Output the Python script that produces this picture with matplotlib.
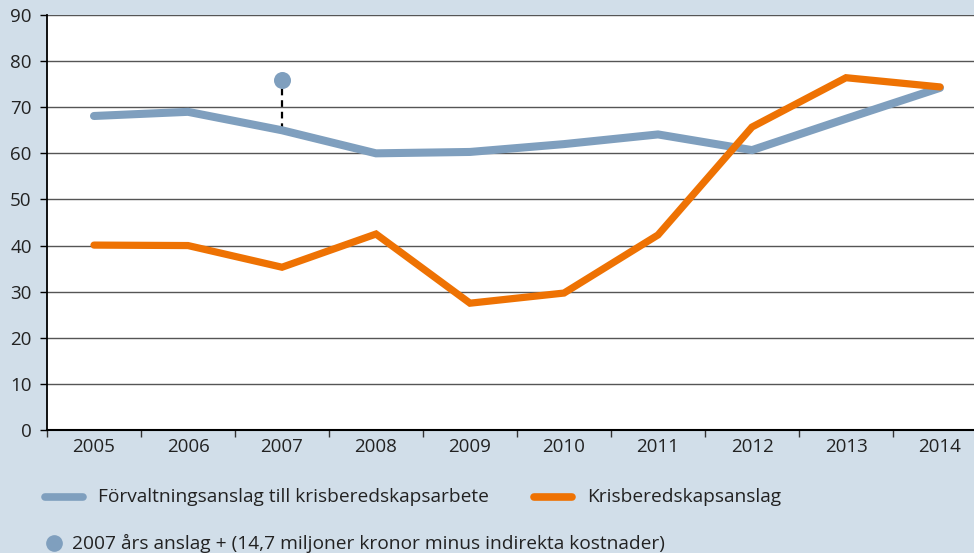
import numpy as np
import matplotlib
matplotlib.use('Agg')
import matplotlib.pyplot as plt
from matplotlib.lines import Line2D

# data
years = ['2005', '2006', '2007', '2008', '2009', '2010', '2011', '2012', '2013', '2014']
forvaltning = [68.1, 69.0, 65.0, 60.0, 60.3, 62.0, 64.1, 60.7, 67.5, 74.2]
krisberedskap = [40.1, 40.0, 35.3, 42.5, 27.5, 29.7, 42.3, 65.7, 76.4, 74.4]
extra_year = '2007'
extra_value = 75.8
y_ticks = [0, 10, 20, 30, 40, 50, 60, 70, 80, 90]

label_forv = 'Förvaltningsanslag till krisberedskapsarbete'
label_kris = 'Krisberedskapsanslag'
label_extra = '2007 års anslag + (14,7 miljoner kronor minus indirekta kostnader)'

bg = '#d1dee9'
blue = '#7f9fbe'
orange = '#ee7203'

plt.rcParams['font.family'] = ['Open Sans', 'DejaVu Sans']

W, H = 974, 553
fig = plt.figure(figsize=(W / 100, H / 100), dpi=100, facecolor=bg)

# plot area in pixels: left 47, top 15, bottom 430, category width ~94 (cropped on right)
left, top, bottom = 47, 15, 430
cat_w = 94.0
right = left + cat_w * len(years)
ax = fig.add_axes([left / W, 1 - bottom / H, (right - left) / W, (bottom - top) / H])
ax.set_facecolor('white')

x = np.arange(len(years))
ax.set_xlim(-0.5, len(years) - 0.5)
ax.set_ylim(0, 90)

for yv in y_ticks[1:]:
    ax.axhline(yv, color='#555555', lw=1.0, zorder=1)

ax.plot(x, forvaltning, color=blue, lw=5.8, solid_capstyle='round', solid_joinstyle='miter', zorder=3)
ax.plot(x, krisberedskap, color=orange, lw=5.2, solid_capstyle='round', solid_joinstyle='miter', zorder=4)

xi = years.index(extra_year)
ax.plot([xi, xi], [forvaltning[xi], extra_value], color='black', lw=1.6, ls=(0, (3, 2.2)), zorder=2)
ax.scatter([xi], [extra_value], s=150, color=blue, zorder=5, linewidths=0)

for s in ['top', 'right']:
    ax.spines[s].set_visible(False)
ax.spines['left'].set_color('black')
ax.spines['bottom'].set_color('black')
ax.spines['left'].set_linewidth(1.3)
ax.spines['bottom'].set_linewidth(1.5)

ax.set_yticks(y_ticks)
ax.set_yticklabels([str(v) for v in y_ticks], fontsize=13.5, color='#222222')
ax.tick_params(axis='y', length=5, width=1, color='black', pad=6)

# category ticks at boundaries, labels at centers
ax.set_xticks(np.arange(-0.5, len(years), 1.0))
ax.set_xticklabels([])
ax.set_xticks(x, minor=True)
ax.set_xticklabels(years, minor=True, fontsize=13.5, color='#222222')
ax.tick_params(axis='x', which='major', length=5, width=1, color='#333333')
ax.tick_params(axis='x', which='minor', length=0, pad=6)

# legend drawn below the plot
def px(xp, yp):
    return xp / W, 1 - yp / H

fig.add_artist(Line2D([45 / W, 83 / W], [1 - 497 / H] * 2, color=blue, lw=5.5, solid_capstyle='round'))
fig.text(*px(98, 497), label_forv, fontsize=13.8, va='center', ha='left', color='#222222')
fig.add_artist(Line2D([534 / W, 572 / W], [1 - 497 / H] * 2, color=orange, lw=5.5, solid_capstyle='round'))
fig.text(*px(587, 497), label_kris, fontsize=13.8, va='center', ha='left', color='#222222')
fig.add_artist(Line2D([54 / W], [1 - 543 / H], marker='o', markersize=11, color=blue, lw=0))
fig.text(*px(72, 543), label_extra, fontsize=13.8, va='center', ha='left', color='#222222')

fig.savefig('out.png', dpi=100, facecolor=bg)
